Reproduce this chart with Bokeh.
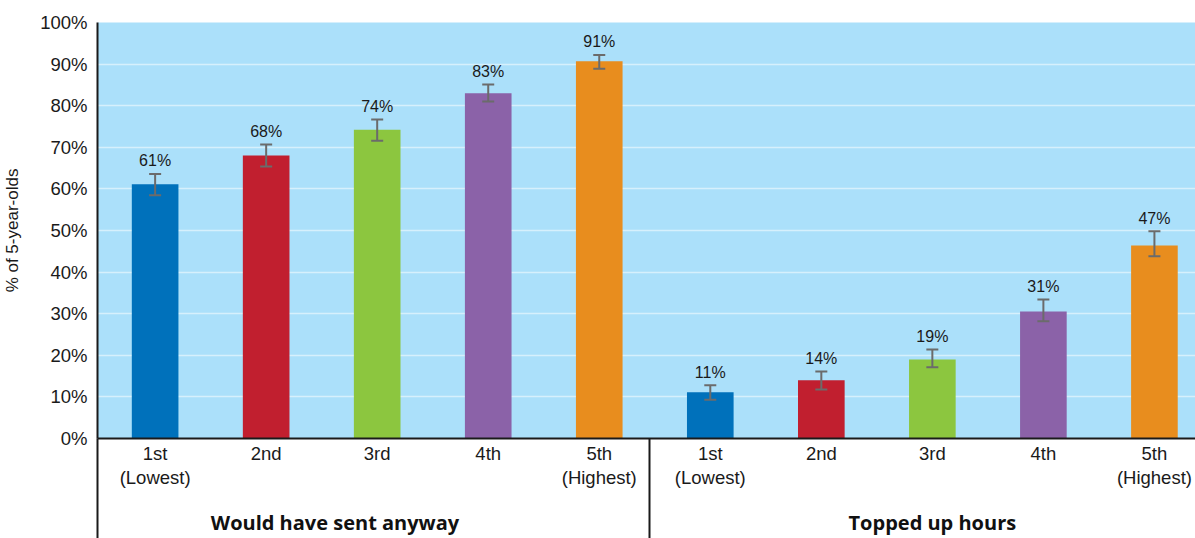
from bokeh.plotting import figure
from bokeh.models import (ColumnDataSource, Range1d, FixedTicker, LinearAxis,
                          PrintfTickFormatter, Whisker, TeeHead)
from bokeh.core.properties import value
from bokeh.embed import file_html
from bokeh.resources import INLINE

# ---- data ----
groups = ["Would have sent anyway", "Topped up hours"]
quintiles = ["1st", "2nd", "3rd", "4th", "5th"]
quintile_notes = ["(Lowest)", "", "", "", "(Highest)"]
values = [61.1, 68.0, 74.2, 83.0, 90.7, 11.1, 14.0, 19.0, 30.5, 46.4]
labels = ["61%", "68%", "74%", "83%", "91%", "11%", "14%", "19%", "31%", "47%"]
err_low = [58.5, 65.4, 71.6, 81.0, 88.9, 9.3, 11.8, 17.1, 28.2, 43.8]
err_high = [63.6, 70.7, 76.7, 85.1, 92.2, 12.8, 16.1, 21.4, 33.4, 49.8]
colors = ["#0071BB", "#C11F2F", "#8CC63F", "#8B62A8", "#E88D1E"]
y_ticks = list(range(0, 101, 10))

n_q = len(quintiles)
xs = list(range(len(values)))
src = ColumnDataSource(dict(
    x=xs, top=values, low=err_low, high=err_high,
    color=[colors[i % n_q] for i in xs], label=labels,
))

FONT = "Liberation Sans"
X0, X1 = -0.519, 9.37
SEP = 4.45
group_pos = [1.62, 7.0]
SEP_LEN = 100

p = figure(width=1195, height=538, output_backend="svg", toolbar_location=None,
           x_range=Range1d(X0, X1), y_range=Range1d(0, 100),
           min_border_left=97, min_border_right=0, min_border_top=22,
           min_border_bottom=100, x_axis_location=None, y_axis_location=None)
p.outline_line_color = None
p.background_fill_color = "#ABE0FA"
p.border_fill_color = "white"

# bars
p.vbar(x="x", top="top", bottom=0, width=0.42, fill_color="color",
       line_color=None, source=src)

# error bars
wh = Whisker(base="x", lower="low", upper="high", source=src,
             line_color="#6B6B6B", line_width=2, level="annotation",
             upper_head=TeeHead(size=12, line_color="#6B6B6B", line_width=2),
             lower_head=TeeHead(size=12, line_color="#6B6B6B", line_width=2))
p.add_layout(wh)

# value labels
p.text(x="x", y="high", text="label", source=src, text_align="center",
       text_baseline="alphabetic", y_offset=-13, text_font=value(FONT),
       text_font_size="16px", text_color="#1a1a1a")

# y axis
yax = LinearAxis(ticker=FixedTicker(ticks=y_ticks),
                 formatter=PrintfTickFormatter(format="%d%%"),
                 axis_label="% of 5-year-olds")
yax.axis_line_color = "#1a1a1a"
yax.axis_line_width = 2
yax.major_tick_line_color = None
yax.minor_tick_line_color = None
yax.major_tick_out = 0
yax.major_tick_in = 0
yax.minor_tick_out = 0
yax.minor_tick_in = 0
yax.major_label_standoff = 10
yax.major_label_text_font = FONT
yax.major_label_text_font_size = "18.5px"
yax.major_label_text_color = "#1a1a1a"
yax.axis_label_text_font = FONT
yax.axis_label_text_font_size = "17px"
yax.axis_label_text_font_style = "normal"
yax.axis_label_text_color = "#1a1a1a"
yax.axis_label_standoff = 15
p.add_layout(yax, "left")

# grid
p.ygrid.ticker = FixedTicker(ticks=y_ticks[1:-1])
p.ygrid.grid_line_color = "#D6F0FC"
p.ygrid.grid_line_width = 1.5
p.xgrid.grid_line_color = None

# x axis, first line of category labels + group separators (minor ticks)
ax1 = LinearAxis(ticker=FixedTicker(ticks=xs, minor_ticks=[X0, SEP]))
ax1.major_label_overrides = {i: quintiles[i % n_q] for i in xs}
ax1.axis_line_color = "#1a1a1a"
ax1.axis_line_width = 2
ax1.major_tick_line_color = None
ax1.major_tick_out = 0
ax1.major_tick_in = 0
ax1.minor_tick_in = 0
ax1.minor_tick_out = SEP_LEN
ax1.minor_tick_line_color = "#1a1a1a"
ax1.minor_tick_line_width = 2
ax1.major_label_standoff = 4 - SEP_LEN
ax1.major_label_text_font = FONT
ax1.major_label_text_font_size = "18.5px"
ax1.major_label_text_color = "#1a1a1a"
p.add_layout(ax1, "below")

# second line of category labels
note_ticks = [i for i in xs if quintile_notes[i % n_q]]
ax2 = LinearAxis(ticker=FixedTicker(ticks=note_ticks, minor_ticks=[]))
ax2.major_label_overrides = {i: quintile_notes[i % n_q] for i in note_ticks}
ax2.axis_line_color = None
ax2.major_tick_line_color = None
ax2.minor_tick_line_color = None
ax2.major_tick_out = 0
ax2.major_tick_in = 0
ax2.minor_tick_out = 0
ax2.major_label_standoff = 0
ax2.major_label_text_font = FONT
ax2.major_label_text_font_size = "18.5px"
ax2.major_label_text_color = "#1a1a1a"
p.add_layout(ax2, "below")

# group labels
ax3 = LinearAxis(ticker=FixedTicker(ticks=group_pos, minor_ticks=[]))
ax3.major_label_overrides = {pos: g for pos, g in zip(group_pos, groups)}
ax3.axis_line_color = None
ax3.major_tick_line_color = None
ax3.minor_tick_line_color = None
ax3.major_tick_out = 0
ax3.major_tick_in = 0
ax3.minor_tick_out = 0
ax3.major_label_standoff = 18
ax3.major_label_text_font = "Open Sans"
ax3.major_label_text_font_size = "20px"
ax3.major_label_text_font_style = "bold"
ax3.major_label_text_color = "#111111"
p.add_layout(ax3, "below")

open("out.html", "w").write(file_html(p, INLINE))
